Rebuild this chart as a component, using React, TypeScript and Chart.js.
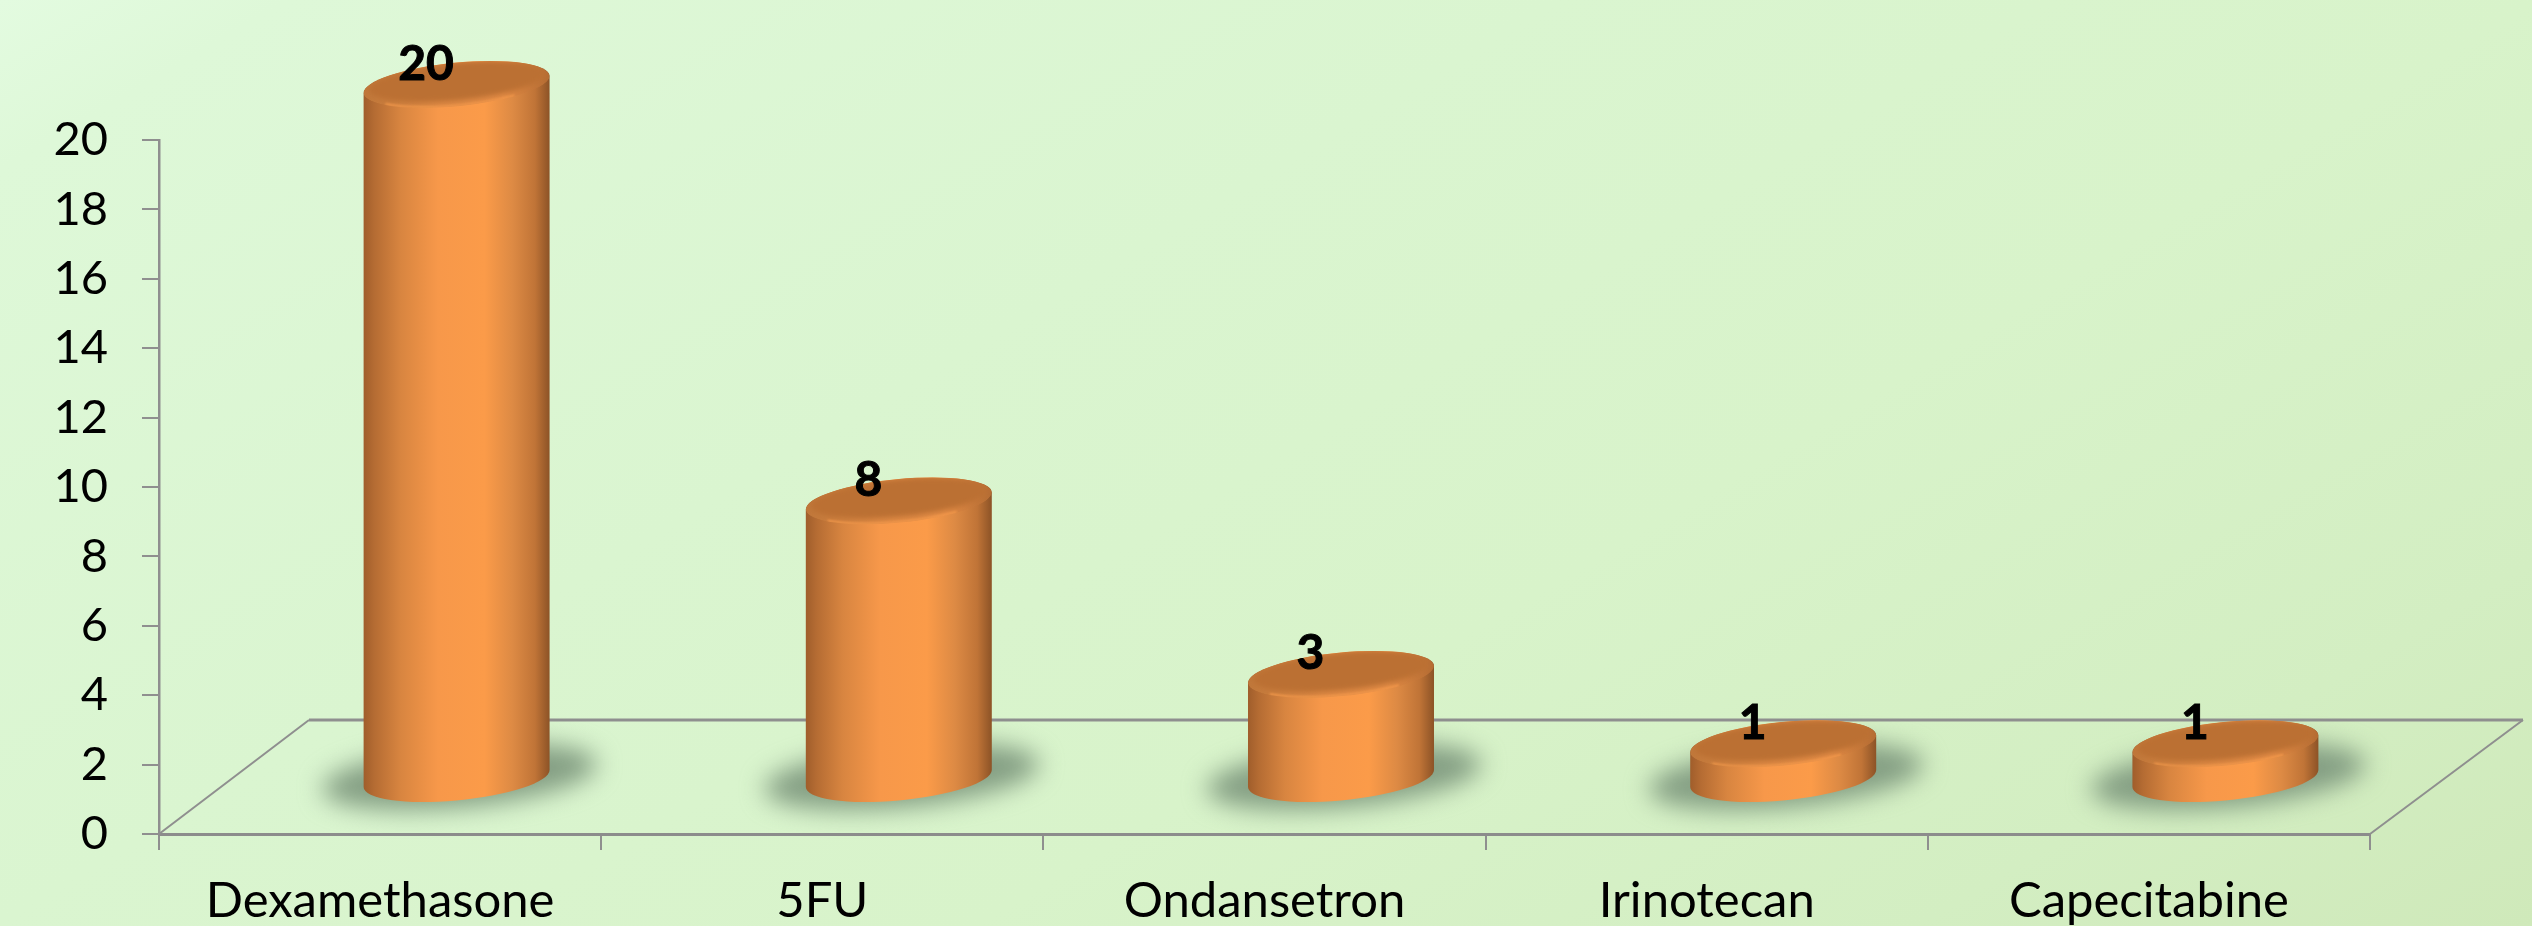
import { useEffect, useRef } from "react";
import { Chart, registerables } from "chart.js";

Chart.register(...registerables);

const categories = ["Dexamethasone", "5FU", "Ondansetron", "Irinotecan", "Capecitabine"];
const counts = [20, 8, 3, 1, 1];
const yMax = 20;
const yStep = 2;

const W = 2532;
const H = 926;
const DEPTH_X = 150;
const DEPTH_Y = 114;
const LIFT = 55.5;
const SHIFT = 76.5;
const TILT = (-5.5 * Math.PI) / 180;
const RX = 93.4;
const RY = 21.8;

const threeD = {
  id: "threeD",
  beforeDraw(chart: any) {
    const { ctx } = chart;
    ctx.save();
    const g = ctx.createLinearGradient(0, 0, 1061, 1795);
    g.addColorStop(0, "#e3fbe0");
    g.addColorStop(0.07, "#def8d8");
    g.addColorStop(0.38, "#daf5d0");
    g.addColorStop(0.62, "#d8f3ca");
    g.addColorStop(0.85, "#d3eec2");
    g.addColorStop(1, "#cfe9ba");
    ctx.fillStyle = g;
    ctx.fillRect(0, 0, W, H);
    ctx.restore();
  },
  beforeDatasetsDraw(chart: any) {
    const { ctx, chartArea: a } = chart;
    const meta = chart.getDatasetMeta(0);
    const y0 = chart.scales.y.getPixelForValue(0);
    ctx.save();
    ctx.strokeStyle = "#8f8f8f";
    ctx.lineWidth = 2;
    ctx.beginPath();
    ctx.moveTo(a.left, y0);
    ctx.lineTo(a.left + DEPTH_X, y0 - DEPTH_Y);
    ctx.moveTo(a.right + DEPTH_X + 3, y0 - DEPTH_Y);
    ctx.lineTo(a.right, y0);
    ctx.stroke();
    ctx.lineWidth = 3;
    ctx.beginPath();
    ctx.moveTo(a.left + DEPTH_X, y0 - DEPTH_Y);
    ctx.lineTo(a.right + DEPTH_X + 3, y0 - DEPTH_Y);
    ctx.stroke();
    // soft shadows on the floor
    ctx.fillStyle = "#7f9a80";
    ctx.filter = "blur(12px)";
    ctx.globalAlpha = 0.95;
    for (const bar of meta.data) {
      ctx.beginPath();
      ctx.ellipse(bar.x + SHIFT + 3, y0 - LIFT - 2, 138, 31, TILT, 0, Math.PI * 2);
      ctx.fill();
    }
    ctx.restore();
  },
  beforeDatasetDraw(chart: any, args: any) {
    const { ctx } = chart;
    const meta = chart.getDatasetMeta(args.index);
    const y0 = chart.scales.y.getPixelForValue(0);
    const t0 = Math.atan2(-RY * Math.sin(TILT), RX * Math.cos(TILT));
    ctx.save();
    for (const bar of meta.data) {
      const cx = bar.x + SHIFT;
      const yb = y0 - LIFT;
      const yt = bar.y - LIFT;
      const g = ctx.createLinearGradient(cx - RX, 0, cx + RX, 0);
      g.addColorStop(0, "#9f5d2b");
      g.addColorStop(0.06, "#b56c33");
      g.addColorStop(0.2, "#d88540");
      g.addColorStop(0.4, "#f7984a");
      g.addColorStop(0.65, "#fb9b49");
      g.addColorStop(0.8, "#dd8a44");
      g.addColorStop(0.92, "#c07437");
      g.addColorStop(1, "#8b5226");
      ctx.fillStyle = g;
      ctx.beginPath();
      ctx.ellipse(cx, yb, RX, RY, TILT, t0, t0 + Math.PI);
      ctx.ellipse(cx, yt, RX, RY, TILT, t0 + Math.PI, t0 + 2 * Math.PI);
      ctx.closePath();
      ctx.fill();
      // top cap with bevelled rim
      ctx.save();
      ctx.beginPath();
      ctx.ellipse(cx, yt, RX, RY, TILT, 0, Math.PI * 2);
      ctx.clip();
      const rim = ctx.createLinearGradient(cx - RX, 0, cx + RX, 0);
      rim.addColorStop(0, "#bf773a");
      rim.addColorStop(0.4, "#dc8843");
      rim.addColorStop(0.75, "#e28b45");
      rim.addColorStop(1, "#b46c33");
      ctx.fillStyle = rim;
      ctx.fill();
      ctx.filter = "blur(1px)";
      ctx.strokeStyle = "#f59a4c";
      ctx.lineWidth = 2;
      ctx.beginPath();
      ctx.ellipse(cx, yt - 1, RX, RY, TILT, t0 + 0.9, t0 + Math.PI - 0.7);
      ctx.stroke();
      ctx.filter = "blur(2.5px)";
      ctx.fillStyle = "#bb7033";
      ctx.beginPath();
      ctx.ellipse(cx, yt - 3, RX - 5, RY - 3, TILT, 0, Math.PI * 2);
      ctx.fill();
      ctx.restore();
    }
    ctx.restore();
    return false;
  },
  afterDatasetsDraw(chart: any) {
    const { ctx } = chart;
    const meta = chart.getDatasetMeta(0);
    ctx.save();
    ctx.fillStyle = "#000";
    ctx.strokeStyle = "#000";
    ctx.lineWidth = 1;
    ctx.font = "bold 48px Lato";
    ctx.textAlign = "center";
    ctx.textBaseline = "alphabetic";
    meta.data.forEach((bar: any, i: number) => {
      const x = bar.x + 46;
      const y = bar.y - LIFT - 5;
      ctx.fillText(String(counts[i]), x, y);
      ctx.strokeText(String(counts[i]), x, y);
    });
    ctx.restore();
  },
};

export default function App() {
  const ref = useRef<HTMLCanvasElement>(null);
  useEffect(() => {
    const chart = new Chart(ref.current!, {
      type: "bar",
      data: {
        labels: categories,
        datasets: [{ label: "Count", data: counts, backgroundColor: "#f79646" }],
      },
      options: {
        animation: false,
        responsive: false,
        layout: { padding: { left: 0, top: 140, right: W - 2370, bottom: 0 } },
        plugins: { legend: { display: false }, tooltip: { enabled: false } },
        scales: {
          x: {
            afterFit: (s: any) => {
              s.height = H - 834;
            },
            grid: { drawOnChartArea: false, color: "#8f8f8f", lineWidth: 2, tickLength: 16 },
            border: { color: "#8c8c8c", width: 3 },
            ticks: { color: "#000", font: { family: "Lato", size: 49 }, padding: 22, maxRotation: 0 },
          },
          y: {
            min: 0,
            max: yMax,
            afterFit: (s: any) => {
              s.width = 159;
            },
            grid: { drawOnChartArea: false, color: "#8f8f8f", lineWidth: 2, tickLength: 17 },
            border: { color: "#8f8f8f", width: 2.5 },
            ticks: { stepSize: yStep, color: "#000", font: { family: "Lato", size: 47 }, padding: 34 },
          },
        },
      },
      plugins: [threeD],
    } as any);
    return () => chart.destroy();
  }, []);
  return (
    <div style={{ position: "fixed", left: 0, top: 0, width: W, height: H, overflow: "hidden" }}>
      <canvas ref={ref} width={W} height={H} style={{ display: "block", width: W, height: H }} />
    </div>
  );
}
